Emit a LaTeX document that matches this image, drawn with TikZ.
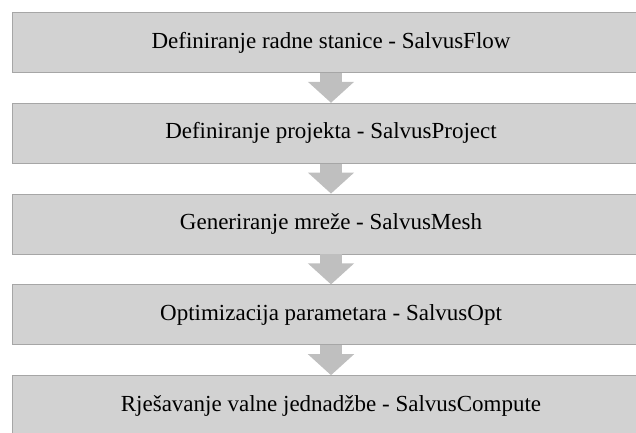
\documentclass[tikz,border=0pt]{standalone}
\usepackage{fontspec}
\setmainfont{Liberation Serif}
\usetikzlibrary{arrows.meta, positioning}

\begin{document}
\begin{tikzpicture}[
    x=1pt, y=-1pt,
    node distance=30pt,
    stagebox/.style={rectangle, draw=gray!70, line width=0.8pt, fill=gray!35, minimum width=638pt, minimum height=60pt, inner sep=0pt, font=\fontsize{23}{27}\selectfont},
    flowarrow/.style={-{Triangle[width=45pt, length=21pt]}, line width=22pt, draw=gray!50}
]
\useasboundingbox (0,0) rectangle (636,432);
\clip (0,0) rectangle (636,432);

% Nodes
\node[stagebox, anchor=north] (flow) at (331,12) {Definiranje radne stanice - SalvusFlow};
\node[stagebox, below=of flow] (project) {Definiranje projekta - SalvusProject};
\node[stagebox, below=of project] (mesh) {Generiranje mreže - SalvusMesh};
\node[stagebox, below=of mesh] (opt) {Optimizacija parametara - SalvusOpt};
\node[stagebox, below=of opt] (compute) {Rješavanje valne jednadžbe - SalvusCompute};

% Arrows
\draw[flowarrow] (flow.south) -- (project.north);
\draw[flowarrow] (project.south) -- (mesh.north);
\draw[flowarrow] (mesh.south) -- (opt.north);
\draw[flowarrow] (opt.south) -- (compute.north);

\end{tikzpicture}
\end{document}
